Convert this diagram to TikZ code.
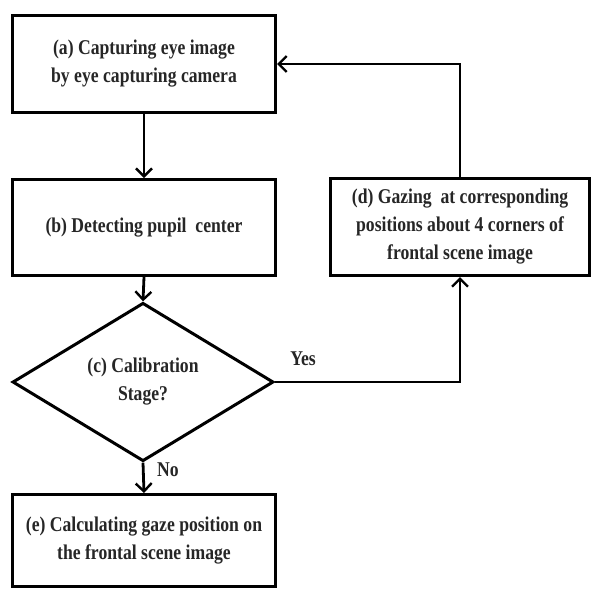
\documentclass[tikz,border=0pt]{standalone}
\usepackage{fontspec}
\setmainfont{Liberation Serif}[FakeStretch=0.84]
\usetikzlibrary{shapes.geometric,arrows.meta}
\begin{document}
\begin{tikzpicture}[x=1pt,y=-1pt,
  every node/.style={font=\fontsize{21}{28}\selectfont\bfseries},
  box/.style={draw,line width=3pt,minimum width=263pt,inner sep=0pt,align=center,text=black!85},
  decision/.style={draw,diamond,line width=3pt,minimum width=261pt,minimum height=98pt,inner sep=0pt,align=center,text=black!85},
  conn/.style={line width=2.8pt,-{Straight Barb[length=8pt,width=16pt,line width=2.4pt]}},
  lab/.style={text=black!85,inner sep=0pt}]
\useasboundingbox[fill=white] (0,0) rectangle (593,590);
\node[box,minimum height=97pt] (a) at (144,64) {(a) Capturing eye image\\by eye capturing camera};
\node[box,minimum height=96pt] (b) at (144,227.5) {(b) Detecting pupil\ \ center};
\node[decision] (c) at (143,382) {(c) Calibration\\Stage?};
\node[box,minimum width=259pt,minimum height=97pt] (d) at (460,227) {(d) Gazing\ \ at corresponding\\positions about 4 corners of\\frontal scene image};
\node[box,minimum height=92pt] (e) at (144,540.5) {(e) Calculating gaze position on\\the frontal scene image};
\coordinate (yc) at (d.south |- c.east);
\draw[conn] (a.south) -- (b.north);
\draw[conn] (b.south) -- (c.north);
\draw[conn] (c.south) -- (e.north);
\draw[conn] (c.east) -- (yc) -- (d.south);
\draw[conn] (d.north) |- (a.east);
\node[lab] (yes) at (303,359) {Yes};
\node[lab] (no) at (168,470) {No};
\end{tikzpicture}
\end{document}
